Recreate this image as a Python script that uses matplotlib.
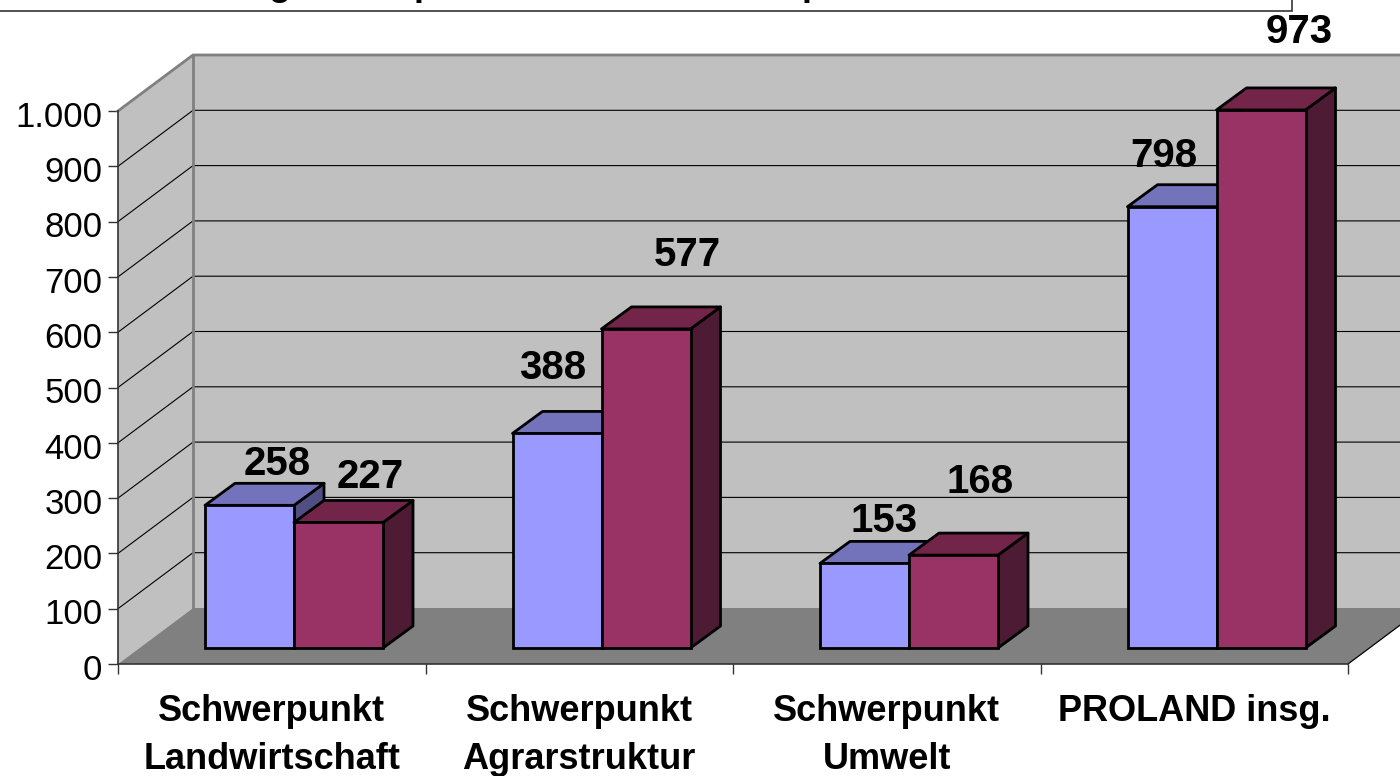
""" Recreates the 3D-look PROLAND bar chart in plain matplotlib. """
import matplotlib
matplotlib.use('Agg')
import matplotlib.pyplot as plt
from matplotlib.patches import Polygon, Rectangle
from matplotlib.transforms import ScaledTranslation

plt.rcParams['font.family'] = ['Liberation Sans', 'DejaVu Sans']

## Data ##
categories = ['Schwerpunkt\nLandwirtschaft', 'Schwerpunkt\nAgrarstruktur',
              'Schwerpunkt\nUmwelt', 'PROLAND insg.']
series_a = [258, 388, 153, 798]
series_b = [227, 577, 168, 973]
y_ticks = [0, 100, 200, 300, 400, 500, 600, 700, 800, 900, 1000]
y_tick_labels = ['0', '100', '200', '300', '400', '500', '600', '700', '800', '900', '1.000']

## Layout, in pixels of the 1400x776 image ##
W, H = 1400, 776
X0, X1, Y0, Y1000 = 118, 1348, 664, 111
PX = 4 / (X1 - X0)               # x units per pixel
PY = 1000 / (Y0 - Y1000)         # y units per pixel
WALL_DX, WALL_DY = 75 * PX, 56 * PY      # depth of the whole box
BAR_DX, BAR_DY = 30 * PX, 22 * PY        # depth of one bar
FLOOR_DY = 16 * PY                       # bar base sits this far above the front edge
BAR_LEFT = 87 * PX
BAR_WIDTH = 89 * PX

# label offsets from the bar front top corner, in pixels
offs_a = [(27, 41), (-5, 65), (19, 42), (-9, 51)]
offs_b = [(31, 45), (41, 74), (26, 73), (38, 78)]

WALL = '#c0c0c0'
FLOOR = '#808080'
BLUE = ('#9999ff', '#7373bb', '#4f4f83')
RED = ('#993366', '#722449', '#4d1c34')

fig = plt.figure(figsize=(W / 100, H / 100), dpi=100)
ax = fig.add_axes([X0 / W, (H - Y0) / H, (X1 - X0) / W, (Y0 - Y1000) / H])
ax.set_xlim(0, 4)
ax.set_ylim(0, 1000)
ax.patch.set_visible(False)


def poly(pts, color, edge='none', lw=0, z=1):
    ax.add_patch(Polygon(pts, closed=True, facecolor=color, edgecolor=edge, linewidth=lw,
                         joinstyle='round', clip_on=False, zorder=z))


## Walls and floor ##
xr = 4 + WALL_DX
poly([(WALL_DX, WALL_DY), (xr, WALL_DY), (xr, 1000 + WALL_DY), (WALL_DX, 1000 + WALL_DY)], WALL)
poly([(0, 0), (WALL_DX, WALL_DY), (WALL_DX, 1000 + WALL_DY), (0, 1000)], WALL)
poly([(0, 0), (4, 0), (xr, WALL_DY), (WALL_DX, WALL_DY)], FLOOR)

## Gridlines ##
for t in y_ticks[1:]:
    ax.plot([0, WALL_DX, xr], [t, t + WALL_DY, t + WALL_DY], color='black', lw=0.8, clip_on=False, zorder=2)
ax.plot([4, xr], [0, WALL_DY], color='black', lw=0.9, clip_on=False, zorder=2)

## Wall edges ##
ax.plot([0, WALL_DX, xr], [1000, 1000 + WALL_DY, 1000 + WALL_DY], color='#808080', lw=2, clip_on=False, zorder=3)
ax.plot([WALL_DX, WALL_DX], [WALL_DY, 1000 + WALL_DY], color='#808080', lw=2, clip_on=False, zorder=3)


def bar3d(x, v, cols, z):
    x2 = x + BAR_WIDTH
    b = FLOOR_DY
    t = v + FLOOR_DY
    poly([(x2, b), (x2 + BAR_DX, b + BAR_DY), (x2 + BAR_DX, t + BAR_DY), (x2, t)], cols[2], 'black', 2, z)
    poly([(x, t), (x2, t), (x2 + BAR_DX, t + BAR_DY), (x + BAR_DX, t + BAR_DY)], cols[1], 'black', 2, z)
    ax.add_patch(Rectangle((x, b), BAR_WIDTH, v, facecolor=cols[0], edgecolor='black', linewidth=2,
                           clip_on=False, zorder=z))


## Bars and value labels ##
for i, (a, b) in enumerate(zip(series_a, series_b)):
    xa = i + BAR_LEFT
    xb = xa + BAR_WIDTH
    bar3d(xa, a, BLUE, 4)
    bar3d(xb, b, RED, 5)
    ax.text(xa + (offs_a[i][0] + 45) * PX, a + FLOOR_DY + offs_a[i][1] * PY, str(a), ha='center',
            va='center', fontsize=29, fontweight='bold', clip_on=False, zorder=7)
    ax.text(xb + (offs_b[i][0] + 45) * PX, b + FLOOR_DY + offs_b[i][1] * PY, str(b), ha='center',
            va='center', fontsize=29, fontweight='bold', clip_on=False, zorder=7)

## Axes ##
for s in ['top', 'right']:
    ax.spines[s].set_visible(False)
for s in ['left', 'bottom']:
    ax.spines[s].set_color('#333333')
    ax.spines[s].set_linewidth(1.2)
    ax.spines[s].set_zorder(6)
ax.set_yticks(y_ticks)
ax.set_yticklabels(y_tick_labels, fontsize=25)
ax.tick_params(axis='y', length=7.2, width=1, color='#333333', pad=4)
# tick labels sit a little below their ticks in the reference
for lab in ax.get_yticklabels():
    lab.set_transform(lab.get_transform() + ScaledTranslation(0, -2 / 72, fig.dpi_scale_trans))
ax.set_xticks([0, 1, 2, 3, 4])
ax.set_xticklabels([])
ax.tick_params(axis='x', length=7.2, width=1, color='#333333')
ax.set_xticks([0.5, 1.5, 2.5, 3.5], minor=True)
ax.set_xticklabels(categories, minor=True, fontsize=26, fontweight='bold', linespacing=1.5)
ax.tick_params(axis='x', which='minor', length=0, pad=21.5)

## Title box, cut off by the top of the image ##
fig.patches.append(Rectangle((-5 / W, 1 - 11 / H), 1297 / W, 40 / H, transform=fig.transFigure,
                             facecolor='white', edgecolor='#333333', linewidth=1.2))
# only the descenders of the title reach into the picture
for ch, px in [('g', 280), ('p', 425), ('p', 813)]:
    fig.text(px / W, 1 + 5 / H, ch, fontsize=26, fontweight='bold', ha='center', va='baseline')

fig.savefig('out.png', dpi=100)
